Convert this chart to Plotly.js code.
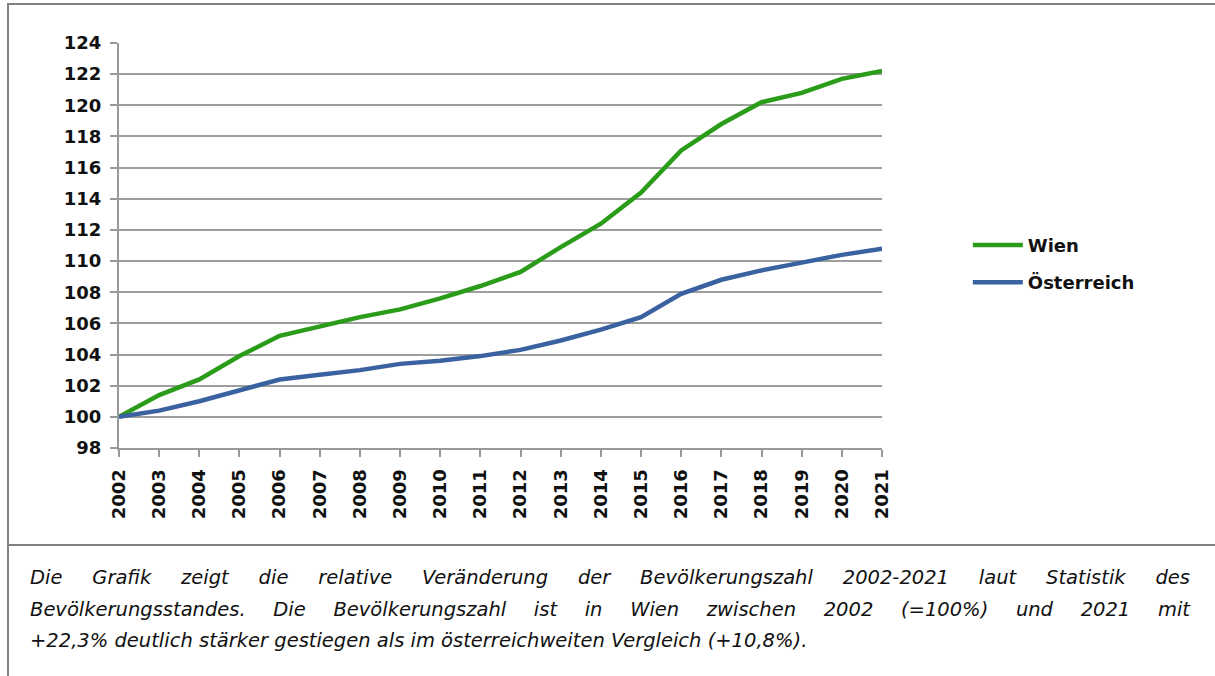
<!DOCTYPE html>
<html>
<head>
<meta charset="utf-8">
<script src="https://cdn.plot.ly/plotly-3.0.1.min.js"></script>
<style>
  html, body { margin: 0; padding: 0; background: #fff; overflow: hidden; }
  body { width: 1215px; height: 676px; position: relative; }
  #chart { position: absolute; left: 0; top: 0; width: 1215px; height: 543px; }
  #frame { position: absolute; left: 7px; top: 3px; width: 1400px; height: 539px;
           border-left: 2px solid #808080; border-top: 2px solid #808080; border-bottom: 2px solid #808080;
           border-right: none; pointer-events: none; }
  #capbox { position: absolute; left: 7px; top: 543px; width: 1400px; height: 133px;
            border-left: 2px solid #808080; }
  #caption { position: absolute; left: 30px; top: 562px; width: 1160px;
             font-family: "DejaVu Sans", Verdana, sans-serif; font-style: italic;
             font-size: 19.5px; color: #111; line-height: 31.5px; }
  .jl { text-align: justify; text-align-last: justify; }
  .ll { text-align: left; }
</style>
</head>
<body>
<div id="chart"></div>
<div id="frame"></div>
<div id="capbox"></div>
<div id="caption">
  <div class="jl">Die Grafik zeigt die relative Veränderung der Bevölkerungszahl 2002-2021 laut Statistik des</div>
  <div class="jl">Bevölkerungsstandes. Die Bevölkerungszahl ist in Wien zwischen 2002 (=100%) und 2021 mit</div>
  <div class="ll">+22,3% deutlich stärker gestiegen als im österreichweiten Vergleich (+10,8%).</div>
</div>
<script>
var years = ["2002","2003","2004","2005","2006","2007","2008","2009","2010","2011",
             "2012","2013","2014","2015","2016","2017","2018","2019","2020","2021"];
var wien = [100, 101.4, 102.4, 103.9, 105.2, 105.8, 106.4, 106.9, 107.6, 108.4,
            109.3, 110.9, 112.4, 114.4, 117.1, 118.8, 120.2, 120.8, 121.7, 122.2];
var oesterreich = [100, 100.4, 101.0, 101.7, 102.4, 102.7, 103.0, 103.4, 103.6, 103.9,
                   104.3, 104.9, 105.6, 106.4, 107.9, 108.8, 109.4, 109.9, 110.4, 110.8];
var yTicks = [98,100,102,104,106,108,110,112,114,116,118,120,122,124];

var boldFont = {family: "DejaVu Sans, Verdana, sans-serif", size: 18, color: "#111", weight: "bold"};

var traces = [
  {x: years, y: wien, name: "Wien", type: "scatter", mode: "lines",
   line: {color: "#2b9c1a", width: 4.5}, legendgroup: "a", hoverinfo: "skip"},
  {x: years, y: oesterreich, name: "Österreich", type: "scatter", mode: "lines",
   line: {color: "#3b62a0", width: 4.5}, legendgroup: "b", hoverinfo: "skip"}
];

var layout = {
  width: 1215, height: 543,
  margin: {l: 119, r: 333, t: 43, b: 95, pad: 0},
  paper_bgcolor: "rgba(0,0,0,0)", plot_bgcolor: "#fff",
  showlegend: true,
  legend: {x: 1.1125, xanchor: "left", y: 0.455, yanchor: "middle",
           font: boldFont, traceorder: "grouped", tracegroupgap: 11,
           itemwidth: 50, bgcolor: "rgba(0,0,0,0)"},
  xaxis: {type: "category", range: [0, years.length - 1],
          tickangle: -90, tickfont: boldFont, ticklabelstandoff: 5,
          showgrid: false, showline: true, linecolor: "#999", linewidth: 2,
          ticks: "outside", ticklen: 7, tickcolor: "#999", tickwidth: 2,
          zeroline: false, fixedrange: true},
  yaxis: {range: [98, 124], tickvals: yTicks, ticktext: yTicks.map(String),
          tickfont: boldFont, ticklabelstandoff: 5,
          showgrid: true, gridcolor: "#9e9e9e", gridwidth: 2,
          showline: true, linecolor: "#999", linewidth: 2,
          ticks: "outside", ticklen: 7, tickcolor: "#999", tickwidth: 2,
          zeroline: false, fixedrange: true}
};

Plotly.newPlot("chart", traces, layout, {staticPlot: true, displayModeBar: false});
</script>
</body>
</html>
